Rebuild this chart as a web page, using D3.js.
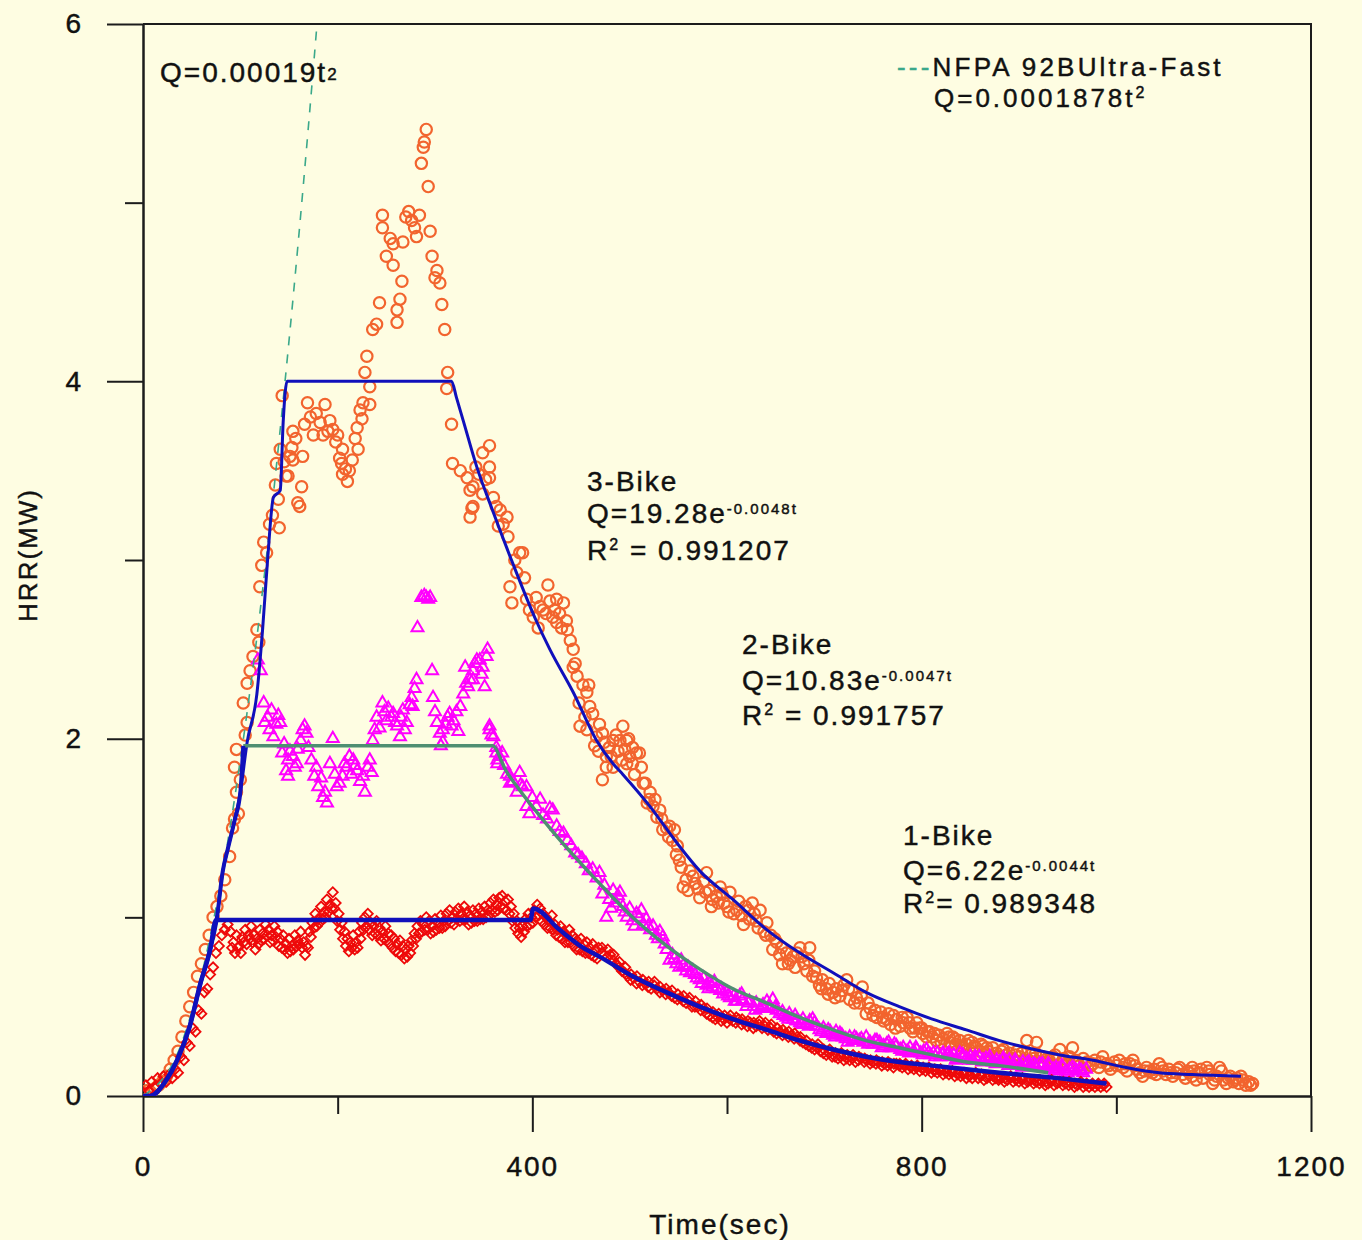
<!DOCTYPE html>
<html>
<head>
<meta charset="utf-8">
<script src="https://cdn.jsdelivr.net/npm/d3@7/dist/d3.min.js"></script>
<style>
  body { margin: 0; background: #fefde2; }
  svg { display: block; font-family: "Liberation Sans", Arial, sans-serif; }
  text { fill: #111; stroke: #111; stroke-width: 0.45px; }
</style>
</head>
<body>
<div id="chart"></div>
<script>
// measured heat release rate, [time (s), HRR (MW)]
const bike1 = [
  [0,0.01],[3,0.06],[6,0.03],[9,0.08],[12,0.05],[15,0.1],[18,0.07],[21,0.11],[24,0.08],[27,0.12],[30,0.1],[33,0.15],
  [36,0.13],[39,0.22],[42,0.2],[45,0.3],[48,0.28],[51,0.38],[54,0.36],[57,0.48],[60,0.46],[63,0.58],[66,0.6],[69,0.68],
  [72,0.72],[75,0.8],[78,0.84],[81,0.9],[84,0.93],[87,0.96],[90,0.92],[93,0.86],[96,0.9],[99,0.84],[102,0.89],[105,0.93],
  [108,0.9],[111,0.95],[114,0.9],[117,0.88],[120,0.93],[123,0.91],[126,0.96],[129,0.93],[132,0.9],[135,0.95],[138,0.92],
  [141,0.88],[144,0.9],[147,0.85],[150,0.88],[153,0.84],[156,0.9],[159,0.87],[162,0.92],[165,0.86],[168,0.84],[171,0.92],
  [174,0.97],[177,1.02],[180,0.99],[183,1.06],[186,1.03],[189,1.1],[192,1.07],[195,1.14],[198,1.08],[201,1.02],[204,0.97],
  [207,0.92],[210,0.88],[213,0.86],[216,0.9],[219,0.86],[222,0.92],[225,0.97],[228,1.0],[231,1.02],[234,0.97],[237,0.95],
  [240,0.98],[243,0.94],[246,0.92],[249,0.95],[252,0.91],[255,0.9],[258,0.88],[261,0.85],[264,0.87],[267,0.84],[270,0.82],
  [273,0.84],[276,0.87],[279,0.91],[282,0.95],[285,0.98],[288,0.96],[291,1.0],[294,0.98],[297,0.95],[300,0.99],[303,0.97],
  [306,1.01],[309,0.98],[312,1.02],[315,1.04],[318,1.0],[321,1.03],[324,1.05],[327,1.02],[330,1.06],[333,1.03],[336,1.01],
  [339,1.04],[342,1.02],[345,1.05],[348,1.03],[351,1.06],[354,1.04],[357,1.08],[360,1.1],[363,1.07],[366,1.11],[369,1.12],
  [372,1.09],[375,1.1],[378,1.06],[381,1.02],[384,0.98],[387,0.94],[390,0.95],[393,0.99],[396,1.02],[399,1.0],[402,1.04],
  [405,1.07],[408,1.05],[411,1.02],[414,1.0],[417,0.98],[420,1.01],[423,0.96],[426,0.93],[429,0.95],[432,0.92],[435,0.9],
  [438,0.93],[441,0.9],[444,0.88],[447,0.86],[450,0.88],[453,0.85],[456,0.86],[459,0.83],[462,0.85],[465,0.82],[468,0.83],
  [471,0.8],[474,0.79],[477,0.78],[480,0.79],[483,0.76],[486,0.74],[489,0.72],[492,0.7],[495,0.69],[498,0.67],[501,0.65],
  [504,0.66],[507,0.63],[510,0.64],[513,0.62],[516,0.63],[519,0.61],[522,0.6],[525,0.62],[528,0.6],[531,0.58],[534,0.59],
  [537,0.57],[540,0.58],[543,0.56],[546,0.55],[549,0.54],[552,0.55],[555,0.53],[558,0.52],[561,0.53],[564,0.5],[567,0.5],
  [570,0.5],[573,0.48],[576,0.49],[579,0.46],[582,0.45],[585,0.44],[588,0.43],[591,0.44],[594,0.42],[597,0.43],[600,0.41],
  [603,0.43],[606,0.42],[609,0.41],[612,0.43],[615,0.4],[618,0.41],[621,0.39],[624,0.41],[627,0.38],[630,0.39],[633,0.4],
  [636,0.38],[639,0.39],[642,0.37],[645,0.38],[648,0.36],[651,0.35],[654,0.36],[657,0.34],[660,0.35],[663,0.33],[666,0.34],
  [669,0.32],[672,0.33],[675,0.31],[678,0.3],[681,0.29],[684,0.28],[687,0.27],[690,0.26],[693,0.27],[696,0.25],[699,0.24],
  [702,0.23],[705,0.24],[708,0.22],[711,0.22],[714,0.21],[717,0.22],[720,0.2],[723,0.21],[726,0.2],[729,0.21],[732,0.19],
  [735,0.2],[738,0.21],[741,0.19],[744,0.2],[747,0.18],[750,0.19],[753,0.18],[756,0.19],[759,0.17],[762,0.18],[765,0.17],
  [768,0.18],[771,0.16],[774,0.18],[777,0.17],[780,0.16],[783,0.17],[786,0.15],[789,0.16],[792,0.15],[795,0.16],[798,0.14],
  [801,0.15],[804,0.14],[807,0.15],[810,0.13],[813,0.14],[816,0.13],[819,0.14],[822,0.12],[825,0.13],[828,0.12],[831,0.13],
  [834,0.11],[837,0.12],[840,0.11],[843,0.12],[846,0.1],[849,0.11],[852,0.1],[855,0.12],[858,0.1],[861,0.11],[864,0.09],
  [867,0.1],[870,0.11],[873,0.09],[876,0.1],[879,0.09],[882,0.1],[885,0.08],[888,0.09],[891,0.1],[894,0.08],[897,0.09],
  [900,0.08],[903,0.09],[906,0.07],[909,0.08],[912,0.09],[915,0.07],[918,0.08],[921,0.07],[924,0.08],[927,0.06],[930,0.07],
  [933,0.08],[936,0.06],[939,0.07],[942,0.08],[945,0.06],[948,0.07],[951,0.06],[954,0.07],[957,0.05],[960,0.06],[963,0.07],
  [966,0.05],[969,0.06],[972,0.05],[975,0.06],[978,0.05],[981,0.06],[984,0.05],[987,0.06],[990,0.05],
  [91.5,0.83],[94.5,0.8],[97.5,0.83],[100.5,0.8],[103.5,0.86],[106.5,0.85],[109.5,0.88],[112.5,0.86],[115.5,0.82],
  [118.5,0.85],[121.5,0.87],[124.5,0.88],[127.5,0.9],[130.5,0.86],[133.5,0.87],[136.5,0.89],[139.5,0.84],[142.5,0.83],
  [145.5,0.82],[148.5,0.8],[151.5,0.81],[154.5,0.82],[157.5,0.84],[160.5,0.85],[163.5,0.83],[166.5,0.79],[169.5,0.83],
  [172.5,0.89],[175.5,0.94],[178.5,0.95],[181.5,0.97],[184.5,0.99],[187.5,1.0],[190.5,1.03],[193.5,1.05],[196.5,1.05],
  [199.5,0.98],[202.5,0.93],[205.5,0.88],[208.5,0.84],[211.5,0.81],[214.5,0.83],[217.5,0.82],[220.5,0.83],[223.5,0.88],
  [226.5,0.93],[229.5,0.95],[232.5,0.93],[235.5,0.9],[238.5,0.91],[241.5,0.9],[244.5,0.87],[247.5,0.88],[250.5,0.87],
  [253.5,0.85],[256.5,0.83],[259.5,0.81],[262.5,0.8],[265.5,0.79],[268.5,0.77],[271.5,0.78],[274.5,0.8],[277.5,0.84],
  [280.5,0.88],[283.5,0.91],[286.5,0.92],[289.5,0.93],[292.5,0.93],[295.5,0.91],[298.5,0.92],[301.5,0.93],[304.5,0.94],
  [307.5,0.94],[310.5,0.95],[313.5,0.98],[316.5,0.97],[319.5,0.96],[322.5,0.99],[325.5,0.98],[328.5,0.99],[331.5,0.99],
  [334.5,0.96],[337.5,0.97],[340.5,0.98],[343.5,0.98],[346.5,0.99],[349.5,0.99],[352.5,1.0],[355.5,1.01],[358.5,1.04],
  [361.5,1.03],[364.5,1.04],[367.5,1.06],[370.5,1.05],[373.5,1.04],[376.5,1.02],[379.5,0.98],[382.5,0.94],[385.5,0.91],
  [388.5,0.89],[391.5,0.92],[394.5,0.95],[397.5,0.96],[400.5,0.97],[403.5,1.0],[406.5,1.01],[409.5,0.98],[412.5,0.96],
  [415.5,0.94],[418.5,0.94],[421.5,0.93],[424.5,0.9],[427.5,0.89],[430.5,0.88],[433.5,0.86],[436.5,0.86],[439.5,0.86],
  [442.5,0.84],[445.5,0.82],[448.5,0.82],[451.5,0.81],[454.5,0.8],[457.5,0.8],[460.5,0.79],[463.5,0.78],[466.5,0.77],
  [471.5,0.83],[477.5,0.82],[483.5,0.79],[489.5,0.75],[495.5,0.72],[501.5,0.68],[507.5,0.67],[513.5,0.65],[519.5,0.64],
  [525.5,0.64],[531.5,0.61],[537.5,0.6],[543.5,0.59],[549.5,0.57],[555.5,0.56],[561.5,0.55],[567.5,0.53],[573.5,0.51],
  [579.5,0.49],[585.5,0.47],[591.5,0.46],[597.5,0.45],[603.5,0.45],[609.5,0.44],[615.5,0.43],[621.5,0.42],[627.5,0.41],
  [633.5,0.42],[639.5,0.41],[645.5,0.4],[651.5,0.38],[657.5,0.37],[663.5,0.36],[669.5,0.35],[675.5,0.33],[681.5,0.31],
  [687.5,0.29],[693.5,0.29],[699.5,0.26],[705.5,0.26],[711.5,0.24],[717.5,0.24],[723.5,0.23],[729.5,0.23],[735.5,0.22],
  [741.5,0.21],[747.5,0.2],[753.5,0.2],[759.5,0.19],[765.5,0.19],[771.5,0.18],[777.5,0.18],[783.5,0.18],[789.5,0.17],
  [795.5,0.17],[801.5,0.16],[807.5,0.16],[813.5,0.15],[819.5,0.15],[825.5,0.14],[831.5,0.14],[837.5,0.13],[843.5,0.13],
  [849.5,0.12],[855.5,0.13],[861.5,0.12],[867.5,0.11],[873.5,0.11],[879.5,0.1],[885.5,0.1],[891.5,0.11],[897.5,0.1],
  [903.5,0.1],[909.5,0.09],[915.5,0.09],[921.5,0.09],[927.5,0.08],[933.5,0.09],[939.5,0.08],[945.5,0.08],[951.5,0.08],
  [957.5,0.07],[963.5,0.08],[969.5,0.07],[975.5,0.07],[981.5,0.07],[987.5,0.07]
];

const bike2 = [
  [118,2.44],[121,2.38],[124,2.2],[125,2.09],[128,2.12],[130,2.05],[132,2.16],[134,2.01],[137,2.08],[139,2.13],[141,2.09],
  [143,1.92],[145,1.97],[147,1.82],[149,1.88],[149,1.79],[151,1.93],[154,1.9],[156,1.84],[158,1.86],[159,1.94],[162,1.99],
  [164,2.05],[166,2.07],[168,2.03],[170,1.95],[173,1.88],[176,1.79],[178,1.84],[180,1.73],[183,1.78],[185,1.67],[187,1.7],
  [189,1.64],[192,1.86],[195,2.0],[197,1.8],[199,1.73],[202,1.75],[205,1.79],[207,1.86],[209,1.84],[212,1.9],[214,1.8],
  [216,1.88],[218,1.85],[220,1.82],[223,1.76],[226,1.79],[228,1.7],[231,1.84],[233,1.88],[235,1.81],[236,1.99],[238,2.05],
  [240,2.12],[243,2.06],[246,2.2],[248,2.15],[250,2.1],[252,2.17],[255,2.12],[257,2.14],[259,2.09],[261,2.07],[264,2.01],
  [265,2.12],[267,2.16],[269,2.05],[271,2.09],[274,2.19],[276,2.23],[277,2.18],[279,2.28],[281,2.33],[282,2.62],[286,2.79],
  [289,2.8],[291,2.79],[293,2.78],[295,2.79],[297,2.38],[298,2.23],[300,2.15],[302,2.09],[305,2.03],[306,1.96],[308,1.98],
  [308,2.05],[311,2.08],[313,2.12],[315,2.14],[317,2.07],[319,2.1],[322,2.15],[324,2.04],[326,2.18],[329,2.25],[331,2.4],
  [332,2.31],[334,2.29],[336,2.33],[339,2.38],[339,2.33],[341,2.42],[343,2.44],[346,2.44],[348,2.36],[349,2.4],[351,2.29],
  [353,2.46],[354,2.5],[356,2.07],[356,2.05],[358,2.02],[360,2.01],[363,1.95],[363,1.92],[364,1.88],[364,1.86],[366,1.9],
  [369,1.92],[371,1.85],[374,1.8],[377,1.79],[377,1.75],[380,1.76],[384,1.7],[387,1.81],[388,1.74],[390,1.73],[394,1.62],
  [394,1.73],[397,1.58],[400,1.67],[404,1.62],[408,1.66],[411,1.57],[415,1.55],[418,1.61],[421,1.6],[425,1.51],[428,1.48],
  [432,1.47],[436,1.43],[440,1.4],[444,1.36],[447,1.35],[451,1.33],[455,1.3],[458,1.26],[462,1.27],[466,1.22],[469,1.25],
  [472,1.13],[476,1.0],[479,1.1],[483,1.15],[486,1.08],[490,1.14],[493,1.06],[497,1.0],[500,1.05],[503,0.98],[507,1.02],
  [510,1.0],[514,0.96],[517,0.99],[521,0.93],[524,0.95],[527,0.9],[531,0.92],[534,0.89],[538,0.82],[541,0.76],[544,0.79],
  [548,0.74],[551,0.72],[555,0.73],[558,0.7],[562,0.69],[565,0.7],[569,0.66],[572,0.65],[576,0.66],[579,0.62],[582,0.63],
  [585,0.61],[589,0.6],[593,0.59],[596,0.57],[600,0.58],[603,0.55],[607,0.56],[610,0.53],[613,0.56],[616,0.54],[620,0.5],
  [623,0.53],[627,0.5],[630,0.52],[634,0.49],[637,0.51],[641,0.53],[644,0.5],[647,0.54],[651,0.48],[654,0.46],[658,0.45],
  [661,0.44],[664,0.46],[668,0.43],[671,0.42],[675,0.41],[678,0.43],[681,0.4],[685,0.42],[688,0.43],[692,0.39],[695,0.37],
  [699,0.38],[702,0.35],[706,0.36],[709,0.34],[712,0.36],[716,0.35],[719,0.33],[722,0.32],[726,0.33],[729,0.31],[733,0.32],
  [736,0.31],[740,0.3],[743,0.33],[747,0.3],[750,0.29],[754,0.31],[757,0.3],[761,0.28],[764,0.29],[767,0.27],[770,0.27],
  [774,0.28],[778,0.26],[781,0.27],[785,0.25],[788,0.27],[792,0.25],[795,0.26],[799,0.24],[802,0.25],[805,0.26],[809,0.23],
  [812,0.24],[816,0.24],[819,0.22],[822,0.24],[826,0.23],[829,0.22],[833,0.23],[836,0.21],[839,0.24],[843,0.22],[846,0.21],
  [850,0.22],[853,0.2],[856,0.21],[859,0.22],[863,0.2],[866,0.21],[870,0.22],[873,0.19],[877,0.2],[880,0.19],[884,0.21],
  [887,0.19],[890,0.2],[894,0.18],[897,0.19],[901,0.17],[904,0.19],[908,0.18],[911,0.17],[915,0.18],[918,0.16],[921,0.18],
  [924,0.18],[928,0.16],[931,0.17],[935,0.15],[938,0.16],[941,0.15],[945,0.16],[948,0.14],[952,0.15],[955,0.16],[959,0.14],
  [962,0.15],[966,0.13],[969,0.15],
  [474,1.18],[481,1.05],[488,1.12],[495,1.03],[505,0.95],[512,1.04],[519,0.95],[529,0.88],[536,0.85],[546,0.77],[553,0.76],
  [560,0.72],[567,0.68],[574,0.63],[581,0.6],[587,0.64],[594,0.6],[601,0.56],[608,0.53],[615,0.57],[622,0.52],[629,0.48],
  [636,0.5],[643,0.49],[650,0.5],[657,0.47],[663,0.43],[670,0.45],[677,0.4],[684,0.39],[690,0.41],[697,0.36],[704,0.37],
  [711,0.33],[718,0.34],[724,0.3],[731,0.33],[738,0.32],[745,0.29],[752,0.31],[759,0.27],[766,0.3],[772,0.29],[780,0.25],
  [787,0.24],[794,0.27],[801,0.23],[807,0.24],[814,0.22],[821,0.23],[828,0.24],[835,0.2],[842,0.23],[849,0.2],[855,0.22],
  [862,0.19],[869,0.2],[876,0.18],[883,0.2],[889,0.17],[896,0.2],[903,0.16],[910,0.19],[917,0.17],[923,0.16],[930,0.18],
  [937,0.14],[944,0.17],[950,0.13],[957,0.15],[964,0.14]
];

const bike3 = [
  [0,0.02],[4,0.03],[8,0.02],[12,0.04],[16,0.06],[20,0.08],[24,0.11],[28,0.15],[32,0.2],[36,0.25],[40,0.33],[44,0.42],
  [48,0.5],[52,0.58],[56,0.67],[60,0.74],[64,0.82],[68,0.9],[72,1.0],[76,1.06],[80,1.12],[84,1.21],[89,1.34],[92,1.5],
  [94,1.55],[94,1.84],[96,1.7],[96,1.94],[98,1.58],[100,1.77],[103,2.2],[105,2.02],[107,2.09],[107,2.31],[110,2.38],
  [113,2.46],[117,2.61],[119,2.54],[120,2.85],[122,2.97],[124,3.1],[127,3.04],[130,3.2],[133,3.25],[136,3.42],[137,3.54],
  [139,3.34],[140,3.18],[141,3.62],[143,3.92],[145,3.55],[147,3.47],[149,3.47],[151,3.58],[153,3.63],[154,3.72],[154,3.56],
  [157,3.68],[159,3.32],[161,3.3],[163,3.41],[164,3.58],[166,3.76],[169,3.88],[172,3.8],[175,3.7],[178,3.82],[182,3.77],
  [185,3.7],[187,3.87],[190,3.72],[192,3.78],[195,3.73],[198,3.66],[200,3.7],[202,3.57],[204,3.54],[205,3.62],[205,3.48],
  [208,3.51],[210,3.44],[212,3.5],[215,3.56],[218,3.68],[220,3.74],[221,3.62],[223,3.84],[225,3.79],[226,3.88],[228,4.05],
  [230,4.14],[233,3.97],[233,3.87],[236,4.29],[240,4.32],[243,4.44],[246,4.86],[246,4.93],[250,4.7],[254,4.8],[257,4.77],
  [257,4.65],[261,4.33],[261,4.4],[264,4.46],[266,4.56],[267,4.78],[270,4.92],[273,4.95],[276,4.9],[279,4.86],[281,4.81],
  [284,4.93],[286,5.22],[288,5.31],[289,5.34],[291,5.41],[293,5.09],[295,4.84],[297,4.7],[300,4.58],[302,4.62],[305,4.55],
  [307,4.43],[310,4.29],[313,4.05],[312,3.96],[317,3.76],[318,3.54],[326,3.5],[333,3.46],[336,3.39],[336,3.24],[338,3.29],
  [339,3.3],[339,3.41],[342,3.52],[345,3.48],[349,3.6],[349,3.37],[352,3.45],[356,3.64],[356,3.52],[356,3.46],[360,3.35],
  [363,3.3],[365,3.19],[367,3.28],[370,3.2],[374,3.24],[375,3.13],[377,2.85],[379,2.76],[382,3.0],[384,2.93],[387,3.04],
  [390,3.04],[392,2.9],[394,2.78],[397,2.72],[401,2.68],[404,2.79],[406,2.62],[408,2.74],[411,2.72],[414,2.7],[416,2.86],
  [418,2.77],[421,2.68],[423,2.72],[425,2.78],[425,2.65],[428,2.7],[430,2.62],[432,2.76],[435,2.66],[436,2.61],[439,2.55],
  [442,2.5],[442,2.4],[446,2.35],[449,2.07],[452,2.3],[456,2.26],[456,2.05],[459,2.18],[462,2.14],[466,2.01],[469,2.08],
  [472,2.03],[472,1.77],[476,1.9],[476,1.84],[479,1.95],[483,1.99],[483,1.84],[486,2.02],[490,1.99],[493,2.07],[495,1.94],
  [497,1.99],[497,1.86],[500,1.9],[503,1.95],[503,1.86],[507,1.92],[510,1.92],[514,1.75],[516,1.75],[518,1.64],[521,1.7],
  [524,1.62],[528,1.56],[531,1.6],[534,1.49],[538,1.5],[541,1.51],[544,1.43],[546,1.49],[549,1.4],[551,1.32],[555,1.17],
  [558,1.21],[562,1.26],[567,1.19],[572,1.11],[576,1.2],[579,1.25],[582,1.15],[585,1.1],[589,1.12],[593,1.17],[597,1.08],
  [600,1.06],[603,1.14],[607,1.02],[610,1.04],[615,1.01],[619,1.06],[623,0.99],[626,1.08],[630,0.98],[634,1.04],[638,0.92],
  [641,0.97],[645,0.9],[647,0.82],[651,0.86],[654,0.79],[657,0.74],[661,0.8],[665,0.76],[668,0.78],[672,0.8],[675,0.83],
  [679,0.74],[682,0.7],[685,0.83],[688,0.67],[692,0.66],[695,0.62],[698,0.65],[702,0.6],[705,0.63],[709,0.58],[712,0.6],
  [716,0.56],[720,0.62],[723,0.65],[726,0.54],[729,0.59],[733,0.55],[736,0.52],[739,0.61],[743,0.46],[747,0.49],[750,0.45],
  [754,0.44],[758,0.47],[761,0.42],[764,0.43],[768,0.4],[771,0.45],[774,0.43],[778,0.39],[781,0.41],[785,0.44],[788,0.38],
  [791,0.36],[795,0.41],[798,0.38],[801,0.35],[805,0.33],[808,0.36],[811,0.33],[815,0.31],[818,0.34],[822,0.32],[826,0.35],
  [829,0.3],[832,0.33],[835,0.29],[839,0.31],[843,0.27],[846,0.29],[849,0.26],[852,0.3],[856,0.27],[860,0.25],[863,0.28],
  [867,0.27],[870,0.23],[873,0.27],[877,0.24],[880,0.22],[884,0.26],[887,0.23],[890,0.24],[894,0.21],[898,0.25],[901,0.22],
  [905,0.2],[908,0.31],[912,0.23],[915,0.21],[918,0.3],[922,0.22],[925,0.19],[929,0.21],[932,0.18],[935,0.22],[938,0.2],
  [942,0.26],[946,0.21],[950,0.18],[955,0.27],[958,0.2],[962,0.17],[966,0.21],[970,0.19],[974,0.17],[978,0.2],[982,0.16],
  [986,0.22],[990,0.18],[994,0.15],[998,0.19],[1003,0.2],[1007,0.16],[1011,0.14],[1014,0.18],[1017,0.2],[1021,0.15],
  [1024,0.13],[1027,0.11],[1031,0.16],[1034,0.14],[1037,0.13],[1041,0.12],[1044,0.18],[1048,0.14],[1051,0.12],[1054,0.15],
  [1058,0.11],[1061,0.13],[1065,0.16],[1068,0.12],[1071,0.1],[1075,0.13],[1078,0.16],[1078,0.11],[1082,0.09],[1085,0.13],
  [1089,0.1],[1093,0.16],[1096,0.12],[1099,0.07],[1103,0.11],[1106,0.16],[1110,0.09],[1113,0.07],[1117,0.11],[1120,0.08],
  [1124,0.1],[1126,0.07],[1130,0.09],[1133,0.06],[1136,0.08],[1140,0.07],
  [444,2.42],[448,2.2],[454,2.12],[458,2.3],[464,1.96],[468,1.93],[474,1.98],[481,1.9],[488,1.93],[492,1.88],[499,2.0],
  [505,1.8],[512,1.84],[520,1.66],[526,1.66],[533,1.55],[540,1.45],[548,1.35],[553,1.28],[560,1.15],[565,1.23],[570,1.16],
  [578,1.14],[584,1.06],[591,1.08],[595,1.13],[602,1.03],[612,1.09],[617,0.96],[622,1.04],[628,1.02],[632,0.94],[640,0.9],
  [649,0.88],[656,0.83],[663,0.74],[670,0.72],[677,0.78],[684,0.76],[690,0.7],[697,0.6],[704,0.57],[711,0.55],[718,0.59],
  [725,0.6],[731,0.52],[738,0.56],[745,0.52],[752,0.48],[760,0.44],[766,0.46],[773,0.38],[780,0.44],[787,0.41],[793,0.38],
  [800,0.38],[806,0.36],[813,0.35],[820,0.3],[828,0.33],[834,0.32],[841,0.28],[848,0.31],[854,0.28],[861,0.29],[868,0.25],
  [875,0.22],[882,0.25],[889,0.21],[896,0.23],[903,0.24],[910,0.2],[917,0.24],[924,0.22],[931,0.2],[937,0.23],[944,0.19],
  [952,0.22],[960,0.19],[968,0.18],[976,0.18],[984,0.19],[992,0.17],[1000,0.17],[1009,0.18],[1019,0.17],[1029,0.14],
  [1039,0.15],[1047,0.16],[1056,0.13],[1063,0.15],[1073,0.14],[1080,0.14],[1087,0.15],[1095,0.14],[1101,0.09],[1108,0.14],
  [1115,0.1],[1122,0.09],[1128,0.11],[1138,0.06]
];

// model curves as plotted (t-squared growth, plateau, exponential decay)
const fit1 = [
  [0,0],[7,0],[24,0.09],[35,0.2],[48,0.39],[59,0.63],[69,0.82],[75,0.985],[398,0.985],[401,1.05],[428,0.93],[452,0.83],
  [469,0.78],[503,0.67],[538,0.58],[572,0.5],[606,0.43],[641,0.37],[675,0.31],[709,0.26],[743,0.22],[777,0.19],[811,0.17],
  [846,0.15],[880,0.13],[940,0.1],[990,0.07]
];
const fit2Rise = [[0,0],[7,0],[24,0.09],[35,0.2],[48,0.39],[59,0.63],[69,0.82],[76,1.0],[82,1.26],[87,1.38],[94,1.54],[100,1.7],[103,1.96]];
const fit2 = [
  [103,1.96],[359,1.96],[373,1.82],[390,1.69],[421,1.48],[469,1.19],[503,1.0],[538,0.84],[572,0.71],[606,0.6],[641,0.52],
  [675,0.44],[709,0.37],[743,0.31],[777,0.27],[811,0.23],[846,0.19],[880,0.17],[930,0.13]
];
const fit3 = [
  [0,0],[7,0],[24,0.09],[35,0.2],[48,0.39],[59,0.63],[69,0.82],[76,1.0],[82,1.26],[87,1.38],[94,1.54],[100,1.7],[107,1.98],
  [117,2.25],[123,2.62],[128,3.0],[134,3.35],[141,3.39],[144,3.77],[148,4.0],[317,4.0],[322,3.91],[329,3.78],[343,3.52],
  [359,3.28],[380,2.98],[404,2.66],[418,2.5],[442,2.26],[466,1.99],[483,1.86],[493,1.8],[521,1.62],[548,1.42],[572,1.26],
  [606,1.1],[641,0.93],[675,0.8],[709,0.69],[743,0.58],[777,0.5],[811,0.43],[846,0.37],[880,0.31],[908,0.27],[942,0.23],
  [976,0.2],[1010,0.16],[1044,0.13],[1078,0.12],[1128,0.11]
];
const nfpa = [[0,0],[40,0.3],[80,1.2],[100,1.88],[120,2.7],[140,3.68],[160,4.81],[170,5.43],[180,6.08]];

const xMajor = [0, 400, 800, 1200];
const xMinor = [200, 600, 1000];
const yMajor = [0, 2, 4, 6];
const yMinor = [1, 3, 5];

const W = 1362, H = 1240;
const plotL = 143, plotR = 1311, plotT = 24, plotB = 1096;

const svg = d3.select('#chart').append('svg')
  .attr('width', W)
  .attr('height', H);

svg.append('rect').attr('width', W).attr('height', H).attr('fill', '#fefde2');

const x = d3.scaleLinear().domain([0, 1200]).range([plotL, plotR]);
const y = d3.scaleLinear().domain([0, 6]).range([plotB, plotT]);

svg.append('defs').append('clipPath').attr('id', 'plot-clip')
  .append('rect').attr('x', plotL).attr('y', plotT).attr('width', plotR - plotL).attr('height', plotB - plotT);

// frame (top and right)
svg.append('path')
  .attr('d', `M${plotL},${plotT}H${plotR}V${plotB}`)
  .attr('fill', 'none').attr('stroke', '#1c1c1c').attr('stroke-width', 2);

// axes: long major ticks, short minor ticks
const axisStyle = g => {
  g.select('.domain').attr('stroke', '#1c1c1c').attr('stroke-width', 2);
  g.selectAll('.tick line').attr('stroke', '#1c1c1c').attr('stroke-width', 2);
  g.selectAll('text')
    .attr('font-family', '"Liberation Sans", Arial, sans-serif')
    .attr('font-size', 28)
    .attr('letter-spacing', 2);
};

svg.append('g')
  .attr('transform', `translate(0,${plotB})`)
  .call(d3.axisBottom(x).tickValues(xMinor).tickSize(18).tickSizeOuter(0).tickFormat(''))
  .call(axisStyle);
svg.append('g')
  .attr('transform', `translate(0,${plotB})`)
  .call(d3.axisBottom(x).tickValues(xMajor).tickSize(36).tickSizeOuter(0).tickPadding(24).tickFormat(d3.format('d')))
  .call(axisStyle);

svg.append('g')
  .attr('transform', `translate(${plotL},0)`)
  .call(d3.axisLeft(y).tickValues(yMinor).tickSize(18).tickSizeOuter(0).tickFormat(''))
  .call(axisStyle);
svg.append('g')
  .attr('transform', `translate(${plotL},0)`)
  .call(d3.axisLeft(y).tickValues(yMajor).tickSize(36).tickSizeOuter(0).tickPadding(24).tickFormat(d3.format('d')))
  .call(axisStyle);

// axis titles
svg.append('text')
  .attr('x', 720).attr('y', 1234)
  .attr('text-anchor', 'middle')
  .attr('font-size', 28).attr('letter-spacing', 2)
  .text('Time(sec)');
svg.append('text')
  .attr('transform', 'translate(37,555) rotate(-90)')
  .attr('text-anchor', 'middle')
  .attr('font-size', 26).attr('letter-spacing', 2)
  .text('HRR(MW)');

// scatter series
const plot = svg.append('g').attr('clip-path', 'url(#plot-clip)');

plot.append('g').selectAll('path')
  .data(bike3).enter().append('path')
  .attr('d', d3.symbol(d3.symbolCircle, 100))
  .attr('transform', d => `translate(${x(d[0])},${y(d[1])})`)
  .attr('fill', 'none').attr('stroke', '#f2642e').attr('stroke-width', 2.2);

plot.append('g').selectAll('path')
  .data(bike2).enter().append('path')
  .attr('d', d3.symbol(d3.symbolTriangle, 62))
  .attr('transform', d => `translate(${x(d[0])},${y(d[1])})`)
  .attr('fill', 'none').attr('stroke', '#ff00ff').attr('stroke-width', 2);

plot.append('g').selectAll('path')
  .data(bike1).enter().append('path')
  .attr('d', d3.symbol(d3.symbolSquare, 50))
  .attr('transform', d => `translate(${x(d[0])},${y(d[1])}) rotate(45)`)
  .attr('fill', 'none').attr('stroke', '#ee0a0a').attr('stroke-width', 1.8);

// model lines
const line = d3.line().x(d => x(d[0])).y(d => y(d[1])).curve(d3.curveMonotoneX);

plot.append('path').datum(nfpa)
  .attr('d', line)
  .attr('fill', 'none').attr('stroke', '#3aa88a').attr('stroke-width', 1.6)
  .attr('stroke-dasharray', '9,9');

plot.append('path').datum(fit3)
  .attr('d', line)
  .attr('fill', 'none').attr('stroke', '#1010bb').attr('stroke-width', 3);

plot.append('path').datum(fit2)
  .attr('d', line)
  .attr('fill', 'none').attr('stroke', '#4f8f72').attr('stroke-width', 3.5);

plot.append('path').datum(fit2Rise)
  .attr('d', line)
  .attr('fill', 'none').attr('stroke', '#1010bb').attr('stroke-width', 4);

plot.append('path').datum(fit1)
  .attr('d', line)
  .attr('fill', 'none').attr('stroke', '#1010bb').attr('stroke-width', 4.5);

// annotations: [x, baseline y, letter spacing, pieces of [text, font size, dy]]
const notes = [
  [160, 82, 2, [['Q=0.00019t', 28, 0], ['2', 17, -2]]],
  [934, 107, 3, [['Q=0.0001878t', 26, 0], ['2', 16, -9]]],
  [587, 491, 2, [['3-Bike', 28, 0]]],
  [587, 523, 2, [['Q=19.28e', 28, 0], ['-0.0048t', 15, -9]]],
  [587, 560, 2, [['R', 28, 0], ['2', 16, -10], [' = 0.991207', 28, 10]]],
  [742, 654, 2, [['2-Bike', 28, 0]]],
  [742, 690, 2, [['Q=10.83e', 28, 0], ['-0.0047t', 15, -9]]],
  [742, 725, 2, [['R', 28, 0], ['2', 16, -10], [' = 0.991757', 28, 10]]],
  [903, 845, 2, [['1-Bike', 28, 0]]],
  [903, 880, 2, [['Q=6.22e', 28, 0], ['-0.0044t', 15, -9]]],
  [903, 913, 2, [['R', 28, 0], ['2', 16, -10], ['= 0.989348', 28, 10]]]
];

notes.forEach(([nx, ny, ls, pieces]) => {
  const t = svg.append('text')
    .attr('x', nx).attr('y', ny)
    .attr('letter-spacing', ls)
    .attr('xml:space', 'preserve');
  pieces.forEach(([txt, size, dy]) => {
    t.append('tspan').attr('font-size', size).attr('dy', dy).text(txt);
  });
});

// legend entry for the NFPA curve
const legend = svg.append('text')
  .attr('x', 897).attr('y', 76)
  .attr('font-size', 26).attr('letter-spacing', 3.2);
legend.append('tspan').attr('fill', '#3aa88a').attr('stroke', '#3aa88a').text('---');
legend.append('tspan').text('NFPA 92BUltra-Fast');
</script>
</body>
</html>
